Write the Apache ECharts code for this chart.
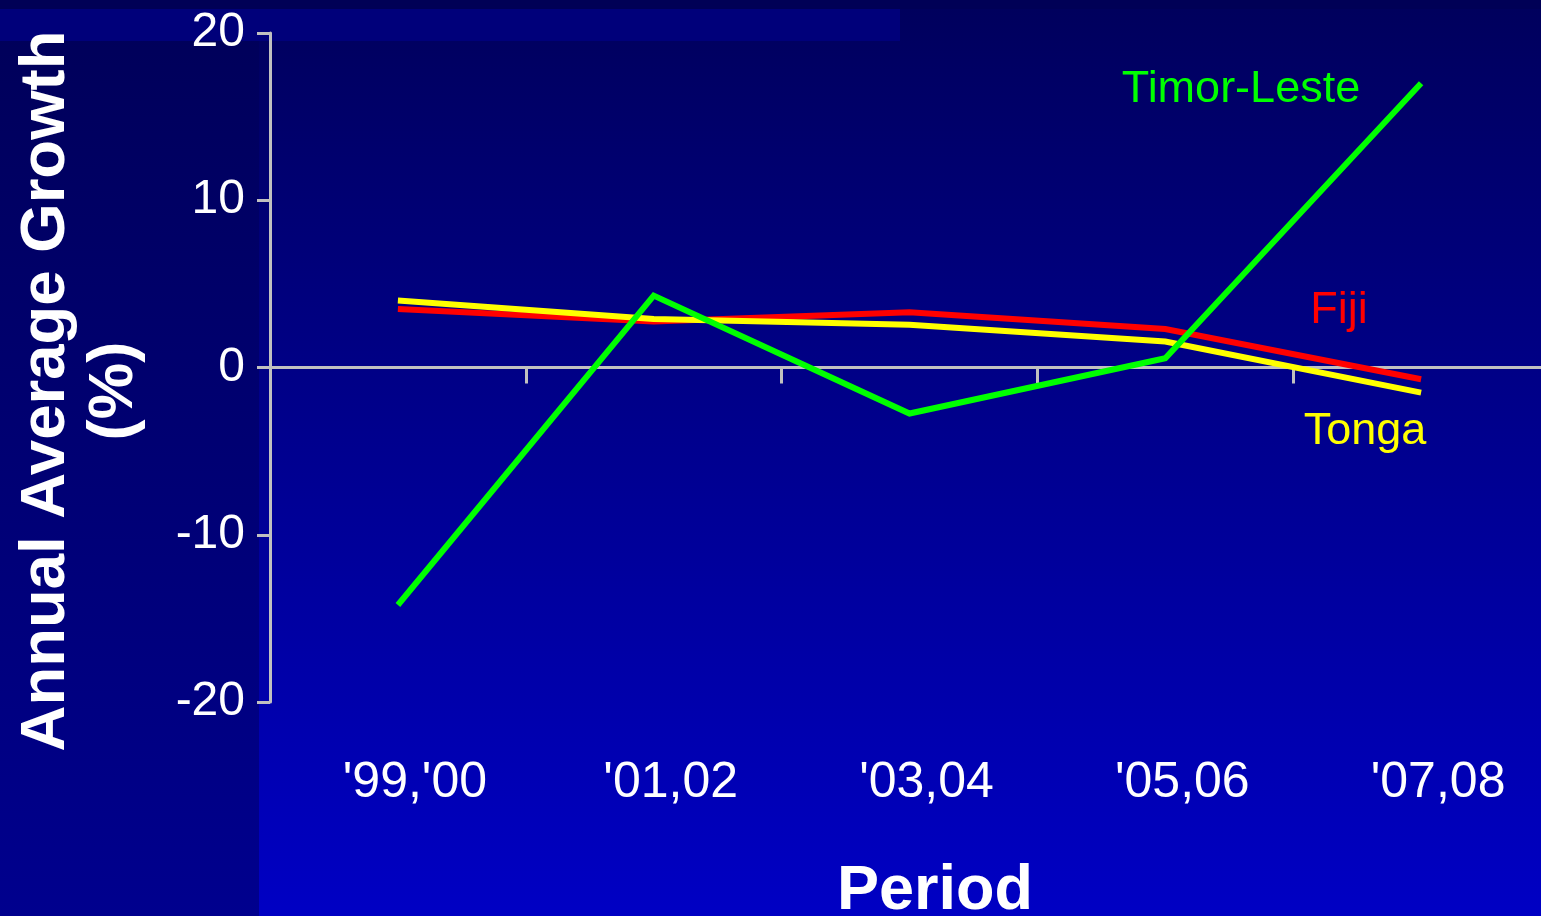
<!DOCTYPE html>
<html>
<head>
<meta charset="utf-8">
<title>Annual Average Growth by Period</title>
<script src="https://cdn.jsdelivr.net/npm/echarts@6/dist/echarts.min.js"></script>
<style>
  html, body { margin: 0; padding: 0; width: 100%; height: 100%; background: #000070; }
  #chart { width: 1541px; height: 916px; }
</style>
</head>
<body>
<div id="chart"></div>
<script>
// Two-year periods on the category axis
const periods = ["'99,'00", "'01,02", "'03,04", "'05,06", "'07,08"];

// Annual average growth (%) per period
const timorLeste = [-14.2, 4.3, -2.75, 0.55, 17.0];
const fiji = [3.5, 2.75, 3.3, 2.3, -0.7];
const tonga = [4.0, 2.9, 2.55, 1.55, -1.5];

// Value axis ticks
const yMin = -20;
const yMax = 20;
const yStep = 10;

const AXIS_GREY = '#c0c0c0';
const FONT = '"Liberation Sans", Arial, sans-serif';

const chart = echarts.init(document.getElementById('chart'), null, { renderer: 'canvas' });

function lineSeries(name, values, color) {
  return {
    name: name,
    type: 'line',
    data: values,
    xAxisIndex: 0,
    yAxisIndex: 0,
    symbol: 'none',
    smooth: false,
    lineStyle: { color: color, width: 6, cap: 'butt', join: 'miter' },
    itemStyle: { color: color },
    emphasis: { disabled: true },
    z: 3
  };
}

const option = {
  animation: false,
  backgroundColor: {
    type: 'linear', x: 0, y: 0, x2: 0, y2: 1,
    colorStops: [
      { offset: 0, color: '#00005c' },
      { offset: 1, color: '#0000c4' }
    ]
  },
  graphic: [
    // darker panel behind the value-axis title
    {
      type: 'rect', z: -10, silent: true,
      shape: { x: 0, y: 0, width: 259, height: 916 },
      style: {
        fill: {
          type: 'linear', x: 0, y: 0, x2: 0, y2: 1,
          colorStops: [
            { offset: 0, color: '#000058' },
            { offset: 1, color: '#00008e' }
          ]
        }
      }
    },
    // thin bands along the top edge
    {
      type: 'rect', z: -9, silent: true,
      shape: { x: 0, y: 0, width: 1541, height: 9 },
      style: { fill: '#000056' }
    },
    {
      type: 'rect', z: -9, silent: true,
      shape: { x: 0, y: 9, width: 900, height: 32 },
      style: { fill: '#00007a' }
    },
    // value-axis title
    {
      type: 'text', z: 10, silent: true,
      x: 80, y: 391,
      rotation: Math.PI / 2,
      style: {
        text: 'Annual Average Growth\n(%)',
        fill: '#ffffff',
        font: 'bold 63.5px ' + FONT,
        lineHeight: 68,
        align: 'center',
        verticalAlign: 'middle'
      }
    },
    // category-axis title
    {
      type: 'text', z: 10, silent: true,
      x: 935, y: 892,
      style: {
        text: 'Period',
        fill: '#ffffff',
        font: 'bold 63px ' + FONT,
        align: 'center',
        verticalAlign: 'middle'
      }
    },
    // series names placed beside their lines
    {
      type: 'text', z: 10, silent: true,
      x: 1241, y: 90,
      style: { text: 'Timor-Leste', fill: '#00ff00', font: '45px ' + FONT, align: 'center', verticalAlign: 'middle' }
    },
    {
      type: 'text', z: 10, silent: true,
      x: 1339, y: 311,
      style: { text: 'Fiji', fill: '#ff0000', font: '45px ' + FONT, align: 'center', verticalAlign: 'middle' }
    },
    {
      type: 'text', z: 10, silent: true,
      x: 1365, y: 432,
      style: { text: 'Tonga', fill: '#ffff00', font: '45px ' + FONT, align: 'center', verticalAlign: 'middle' }
    }
  ],
  grid: {
    left: 270,
    top: 33,
    width: 1279,
    height: 669,
    containLabel: false,
    outerBoundsMode: 'none'
  },
  xAxis: [
    {
      // axis line crossing at zero with boundary ticks
      type: 'category',
      data: periods,
      boundaryGap: true,
      position: 'bottom',
      axisLine: { show: true, onZero: true, lineStyle: { color: AXIS_GREY, width: 3 } },
      axisTick: { show: true, length: 16, lineStyle: { color: AXIS_GREY, width: 3 } },
      axisLabel: { show: false },
      splitLine: { show: false }
    },
    {
      // period labels along the bottom of the plot
      type: 'category',
      data: periods,
      boundaryGap: true,
      position: 'bottom',
      axisLine: { show: false, onZero: false },
      axisTick: { show: false },
      splitLine: { show: false },
      axisLabel: {
        show: true,
        interval: 0,
        margin: 56,
        color: '#ffffff',
        fontFamily: FONT,
        fontSize: 50,
        lineHeight: 50,
        padding: [0, 0, 0, 34]
      }
    }
  ],
  yAxis: {
    type: 'value',
    min: yMin,
    max: yMax,
    interval: yStep,
    position: 'left',
    axisLine: { show: true, onZero: false, lineStyle: { color: AXIS_GREY, width: 3 } },
    axisTick: { show: true, length: 13, lineStyle: { color: AXIS_GREY, width: 3 } },
    splitLine: { show: false },
    axisLabel: {
      show: true,
      margin: 25,
      color: '#ffffff',
      fontFamily: FONT,
      fontSize: 48
    }
  },
  series: [
    lineSeries('Fiji', fiji, '#ff0000'),
    lineSeries('Tonga', tonga, '#ffff00'),
    lineSeries('Timor-Leste', timorLeste, '#00ff00')
  ]
};

chart.setOption(option);
</script>
</body>
</html>
